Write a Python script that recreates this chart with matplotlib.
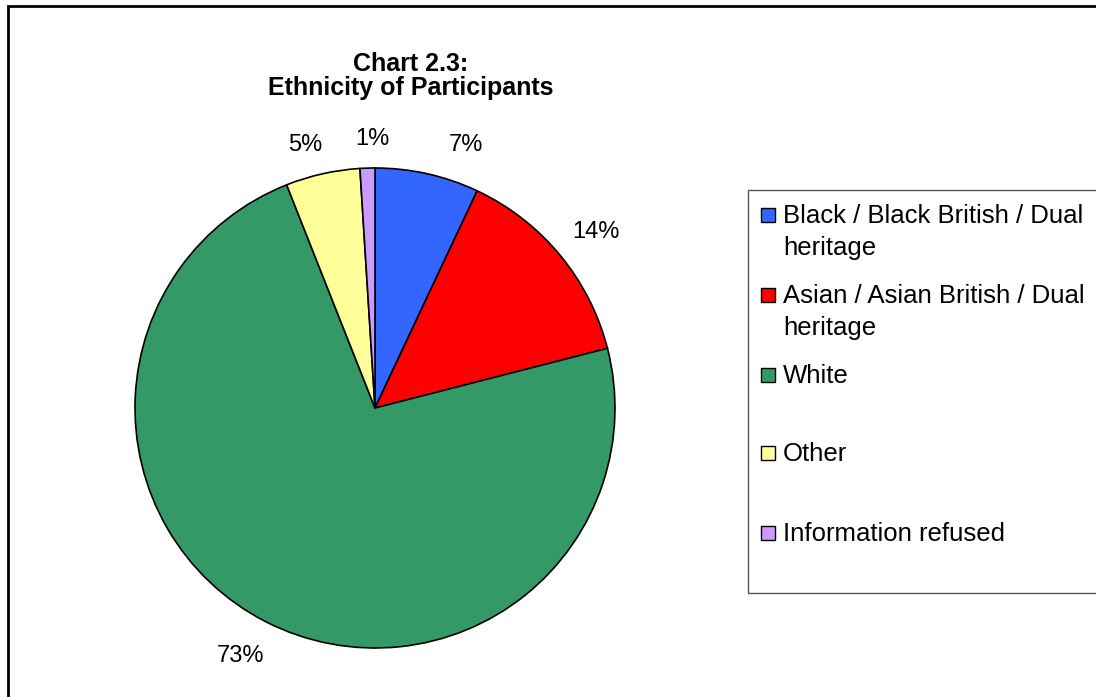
import matplotlib.pyplot as plt
from matplotlib.patches import Rectangle

plt.rcParams['font.family'] = ['Liberation Sans', 'DejaVu Sans']

categories = ["Black / Black British / Dual\nheritage",
              "Asian / Asian British / Dual\nheritage",
              "White", "Other", "Information refused"]
values = [7, 14, 73, 5, 1]
colors = ["#3366FF", "#FF0000", "#339966", "#FFFF99", "#CC99FF"]
pct_labels = [f"{v}%" for v in values]

W, H = 1096, 697
R = 240  # pie radius in pixels
fig = plt.figure(figsize=(W / 100, H / 100), dpi=100)

# outer chart border (right and bottom edges fall outside the picture)
fig.patches.append(Rectangle((8 / W, -0.05), 1.1, 1 - 6 / H + 0.05,
                             transform=fig.transFigure, fill=False,
                             edgecolor="black", linewidth=2))

ax = fig.add_axes([135 / W, 1 - 648 / H, 2 * R / W, 2 * R / H])
wedges, texts = ax.pie(values, colors=colors, labels=pct_labels,
                       startangle=90, counterclock=False, labeldistance=1.1,
                       wedgeprops=dict(edgecolor="black", linewidth=1.2),
                       textprops=dict(fontsize=17))
ax.set_xlim(-1, 1)
ax.set_ylim(-1, 1)

# nudge percent labels (pixels, +x right, +y down) to where the sheet put them
label_nudge = [(16, -5), (-6, -8), (9, 13), (5, -5), (23, -5)]
for t, (dx, dy) in zip(texts, label_nudge):
    x, y = t.get_position()
    t.set_position((x + dx / R, y - dy / R))

fig.text(411 / W, 1 - 64 / H, "Chart 2.3:", ha="center", va="center",
         fontsize=18, fontweight="bold")
fig.text(411 / W, 1 - 88 / H, "Ethnicity of Participants", ha="center",
         va="center", fontsize=18, fontweight="bold")

# legend box, drawn by hand to follow the spreadsheet layout
fig.patches.append(Rectangle((748 / W, 1 - 593 / H), 0.5, (593 - 190) / H,
                             transform=fig.transFigure, fill=False,
                             edgecolor="#555555", linewidth=1))
entry_y = [215, 295, 375, 453, 533]
for lab, col, y in zip(categories, colors, entry_y):
    fig.patches.append(Rectangle((761 / W, 1 - (y + 7) / H), 14 / W, 14 / H,
                                 transform=fig.transFigure, facecolor=col,
                                 edgecolor="black", linewidth=1))
    fig.text(783 / W, 1 - (y - 11) / H, lab, ha="left", va="top",
             fontsize=18.5, linespacing=1.4)

fig.savefig("out.png", dpi=100)
